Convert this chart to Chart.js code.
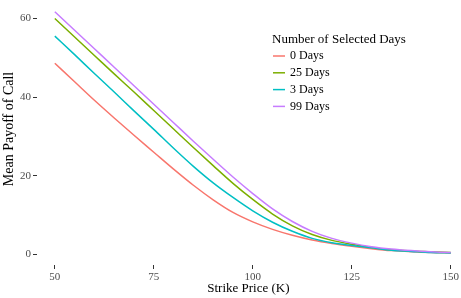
<!DOCTYPE html>
<html><head><meta charset="utf-8">
<script src="https://cdn.jsdelivr.net/npm/chart.js@4/dist/chart.umd.min.js"></script>
<style>html,body{margin:0;padding:0;background:#fff;} canvas{display:block;}</style>
</head><body>
<canvas id="c" width="461" height="298"></canvas>
<script>
const strikes = [50,55,60,65,70,75,80,85,90,95,100,105,110,115,120,125,130,135,140,145,150];
const days0  = [48.6,43.9,39.2,34.7,30.3,26.0,21.7,17.6,13.9,10.7,8.3,6.4,4.9,3.7,2.8,2.1,1.5,1.0,0.7,0.5,0.4];
const days25 = [60.0,55.3,50.6,45.9,41.3,36.6,31.9,27.2,22.6,18.1,14.0,10.3,7.3,5.1,3.6,2.6,1.8,1.2,0.9,0.7,0.5];
const days3  = [55.5,50.8,46.0,41.3,36.5,31.8,27.0,22.4,18.2,14.5,11.1,8.2,5.9,4.1,3.0,2.3,1.7,1.1,0.8,0.5,0.4];
const days99 = [61.7,57.0,52.3,47.6,42.9,38.2,33.5,28.8,24.2,19.7,15.5,11.6,8.4,5.9,4.1,2.9,2.0,1.4,1.0,0.7,0.5];
const seriesNames = ['0 Days','25 Days','3 Days','99 Days'];
const xTicks = [50,75,100,125,150];
const yTicks = [0,20,40,60];
const legendTitle = 'Number of Selected Days';
const xTitle = 'Strike Price (K)';
const yTitle = 'Mean Payoff of Call';

const FONT = '"Liberation Serif", "Times New Roman", serif';
const colors = ['#F8766D','#7CAE00','#00BFC4','#C77CFF'];
const seriesData = [days0, days25, days3, days99];
const drawOrder = [4,3,2,1];

const datasets = seriesData.map((arr,i)=>({
  label: seriesNames[i],
  data: strikes.map((x,j)=>({x:x, y:arr[j]})),
  borderColor: colors[i],
  backgroundColor: colors[i],
  borderWidth: 1.5,
  pointRadius: 0,
  fill: false,
  cubicInterpolationMode: 'monotone',
  order: drawOrder[i]
}));

const textPlugin = {
  id: 'ggText',
  afterDraw(chart){
    const ctx = chart.ctx;
    ctx.save();
    ctx.save();
    ctx.translate(9, 129);
    ctx.rotate(-Math.PI/2);
    ctx.textAlign = 'center';
    ctx.textBaseline = 'middle';
    ctx.fillStyle = '#000';
    ctx.font = '14px ' + FONT;
    ctx.fillText(yTitle, 0, 0);
    ctx.restore();
    ctx.textBaseline = 'middle';
    ctx.textAlign = 'left';
    ctx.fillStyle = '#000';
    ctx.font = '13px ' + FONT;
    ctx.fillText(legendTitle, 272, 40);
    ctx.font = '12px ' + FONT;
    chart.data.datasets.forEach((ds,i)=>{
      const y = 56 + i*16.8;
      ctx.strokeStyle = ds.borderColor;
      ctx.lineWidth = 1.5;
      ctx.beginPath(); ctx.moveTo(273, y); ctx.lineTo(285, y); ctx.stroke();
      ctx.fillStyle = '#000';
      ctx.fillText(ds.label, 290, y);
    });
    ctx.restore();
  }
};

new Chart(document.getElementById('c'), {
  type: 'line',
  data: { datasets },
  plugins: [textPlugin],
  options: {
    responsive: false,
    animation: false,
    devicePixelRatio: 1,
    layout: { padding: { top: 0, right: 1, left: 0, bottom: 0 } },
    plugins: { legend: { display: false }, tooltip: { enabled: false } },
    scales: {
      x: {
        type: 'linear',
        min: 45.5, max: 152.3,
        afterBuildTicks: s => { s.ticks = xTicks.map(v=>({value:v})); },
        afterFit: s => { s.height = 33; },
        grid: { drawOnChartArea: false, drawTicks: true, tickLength: 4, color: '#333333', lineWidth: 1 },
        border: { display: false },
        ticks: { color: '#4D4D4D', font: { family: FONT, size: 11 }, padding: 2, maxRotation: 0, autoSkip: false },
        title: { display: true, text: xTitle, color: '#000', font: { family: FONT, size: 13 }, padding: { top: 0, bottom: 2 } }
      },
      y: {
        type: 'linear',
        min: -2.66, max: 62.5,
        afterBuildTicks: s => { s.ticks = yTicks.map(v=>({value:v})); },
        afterFit: s => { s.width = 37; },
        grid: { drawOnChartArea: false, drawTicks: true, tickLength: 4, color: '#333333', lineWidth: 1 },
        border: { display: false },
        ticks: { color: '#4D4D4D', font: { family: FONT, size: 11 }, padding: 2 },
        title: { display: false }
      }
    }
  }
});
</script>
</body></html>
